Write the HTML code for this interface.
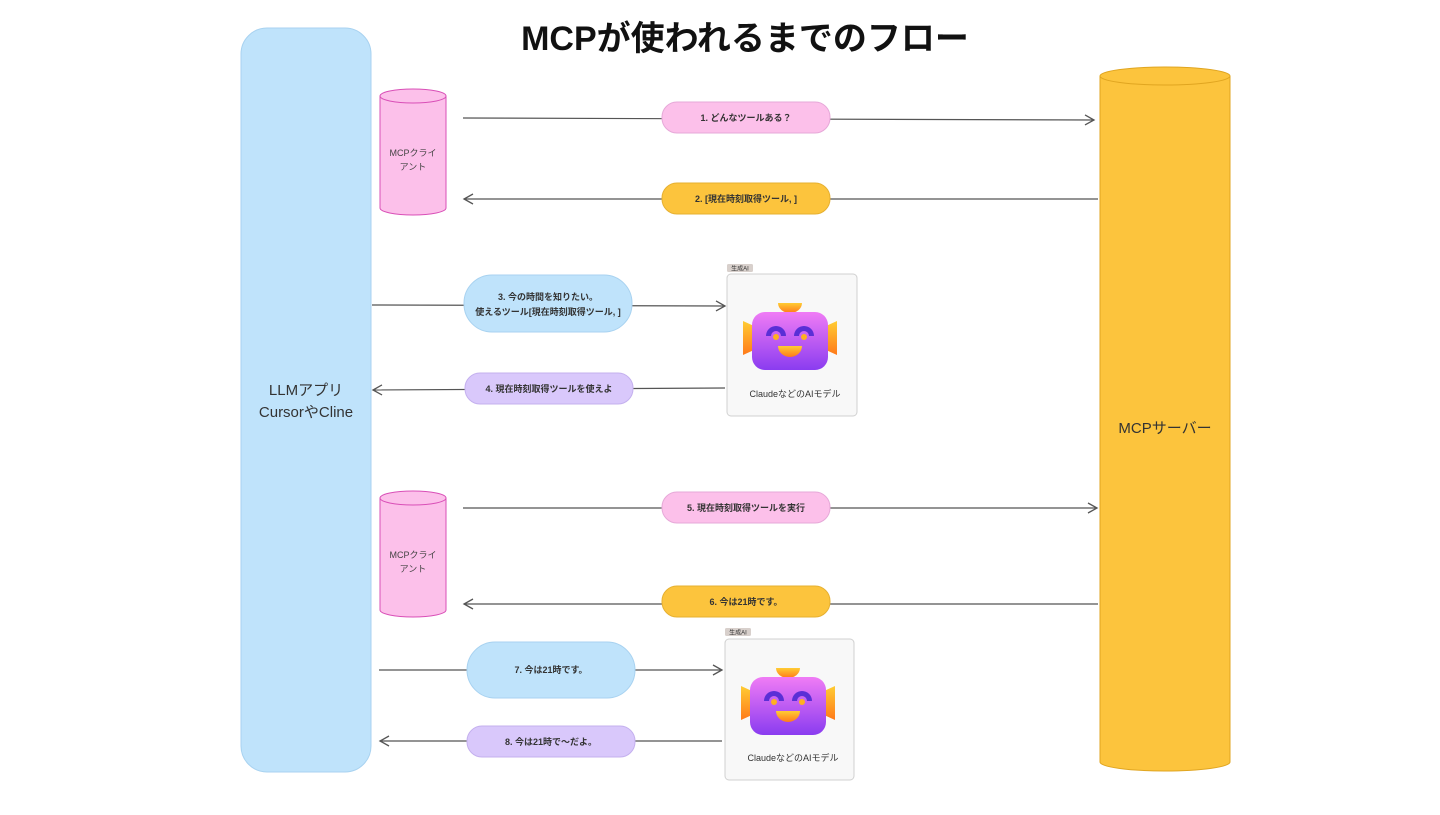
<!DOCTYPE html>
<html><head><meta charset="utf-8"><style>
body{margin:0;background:#fff;}
text{font-family:"Liberation Sans","Noto Sans CJK JP",sans-serif;}
</style></head><body>
<svg width="1440" height="810" viewBox="0 0 1440 810" xmlns="http://www.w3.org/2000/svg">
<defs>
<marker id="ar" markerWidth="12" markerHeight="12" refX="10" refY="6" orient="auto" markerUnits="userSpaceOnUse">
<path d="M1,1 L10,6 L1,11" fill="none" stroke="#555" stroke-width="1.3"/></marker>
<linearGradient id="rb" x1="0" y1="0" x2="0" y2="1"><stop offset="0" stop-color="#f07cf5"/><stop offset="1" stop-color="#8a3cf0"/></linearGradient>
<linearGradient id="og" x1="0" y1="0" x2="0" y2="1"><stop offset="0" stop-color="#ffcc33"/><stop offset="1" stop-color="#ff7a1a"/></linearGradient>
<g id="robot">
<path d="M-12,-35 L12,-35 A12,10 0 0 1 -12,-35 Z" fill="url(#og)"/>
<path d="M-36,-12 L-47,-17 L-47,17 L-36,12 Z" fill="url(#og)"/>
<path d="M36,-12 L47,-17 L47,17 L36,12 Z" fill="url(#og)"/>
<rect x="-38" y="-26" width="76" height="58" rx="13" fill="url(#rb)"/>
<path d="M-24,-2 A10,10 0 0 1 -4,-2 L-9,-2 A5,5 0 0 0 -19,-2 Z" fill="#5a2fd6"/>
<path d="M4,-2 A10,10 0 0 1 24,-2 L19,-2 A5,5 0 0 0 9,-2 Z" fill="#5a2fd6"/>
<circle cx="-14" cy="-1" r="3" fill="#ffb020"/><circle cx="14" cy="-1" r="3" fill="#ffb020"/>
<path d="M-12,8 L12,8 A12,11 0 0 1 -12,8 Z" fill="url(#og)"/>
</g>
</defs>
<text x="745" y="50" text-anchor="middle" font-size="34" font-weight="bold" fill="#111">MCPが使われるまでのフロー</text>

<rect x="241" y="28" width="130" height="744" rx="26" fill="#bfe3fb" stroke="#a8d2f0"/>
<text x="306" y="395" text-anchor="middle" font-size="15" fill="#333">LLMアプリ</text>
<text x="306" y="417" text-anchor="middle" font-size="15" fill="#333">CursorやCline</text>

<path d="M1100,76 L1100,762 A65,9 0 0 0 1230,762 L1230,76" fill="#fcc43d" stroke="#e0a520"/>
<ellipse cx="1165" cy="76" rx="65" ry="9" fill="#fcc43d" stroke="#e0a520"/>
<text x="1165" y="433" text-anchor="middle" font-size="15" fill="#333">MCPサーバー</text>

<g id="cl">
<path d="M380,96 L380,208 A33,7 0 0 0 446,208 L446,96" fill="#fcc0ea" stroke="#d94fb7"/>
<ellipse cx="413" cy="96" rx="33" ry="7" fill="#fcc0ea" stroke="#d94fb7"/>
<text x="413" y="156" text-anchor="middle" font-size="9" fill="#444">MCPクライ</text>
<text x="413" y="170" text-anchor="middle" font-size="9" fill="#444">アント</text>
</g>
<use href="#cl" y="402"/>

<g stroke="#555" stroke-width="1.2" fill="none">
<line x1="463" y1="118" x2="1094" y2="120" marker-end="url(#ar)"/>
<line x1="1098" y1="199" x2="464" y2="199" marker-end="url(#ar)"/>
<line x1="372" y1="305" x2="725" y2="306" marker-end="url(#ar)"/>
<line x1="725" y1="388" x2="373" y2="390" marker-end="url(#ar)"/>
<line x1="463" y1="508" x2="1097" y2="508" marker-end="url(#ar)"/>
<line x1="1098" y1="604" x2="464" y2="604" marker-end="url(#ar)"/>
<line x1="379" y1="670" x2="722" y2="670" marker-end="url(#ar)"/>
<line x1="722" y1="741" x2="380" y2="741" marker-end="url(#ar)"/>
</g>

<g font-size="9" font-weight="bold" fill="#333" text-anchor="middle">
<rect x="662" y="102" width="168" height="31" rx="15" fill="#fcc0ea" stroke="#e6a8d8"/>
<text x="746" y="121">1. どんなツールある？</text>
<rect x="662" y="183" width="168" height="31" rx="15" fill="#fcc43d" stroke="#e6b030"/>
<text x="746" y="202">2. [現在時刻取得ツール, ]</text>
<rect x="464" y="275" width="168" height="57" rx="28" fill="#bfe3fb" stroke="#a8d2f0"/>
<text x="548" y="300">3. 今の時間を知りたい。</text>
<text x="548" y="315">使えるツール[現在時刻取得ツール, ]</text>
<rect x="465" y="373" width="168" height="31" rx="15" fill="#d9c8fb" stroke="#c4b0ee"/>
<text x="549" y="392">4. 現在時刻取得ツールを使えよ</text>
<rect x="662" y="492" width="168" height="31" rx="15" fill="#fcc0ea" stroke="#e6a8d8"/>
<text x="746" y="511">5. 現在時刻取得ツールを実行</text>
<rect x="662" y="586" width="168" height="31" rx="15" fill="#fcc43d" stroke="#e6b030"/>
<text x="746" y="605">6. 今は21時です。</text>
<rect x="467" y="642" width="168" height="56" rx="28" fill="#bfe3fb" stroke="#a8d2f0"/>
<text x="551" y="673">7. 今は21時です。</text>
<rect x="467" y="726" width="168" height="31" rx="15" fill="#d9c8fb" stroke="#c4b0ee"/>
<text x="551" y="745">8. 今は21時で〜だよ。</text>
</g>

<g>
<rect x="727" y="264" width="26" height="8" rx="1.5" fill="#d8d0cc"/>
<text x="740" y="270.5" text-anchor="middle" font-size="6" fill="#333">生成AI</text>
<rect x="727" y="274" width="130" height="142" rx="4" fill="#f8f8f8" stroke="#d0d0d0"/>
<use href="#robot" x="790" y="338"/>
<text x="795" y="397" text-anchor="middle" font-size="9" fill="#333">ClaudeなどのAIモデル</text>
</g>
<g>
<rect x="725" y="628" width="26" height="8" rx="1.5" fill="#d8d0cc"/>
<text x="738" y="634.5" text-anchor="middle" font-size="6" fill="#333">生成AI</text>
<rect x="725" y="639" width="129" height="141" rx="4" fill="#f8f8f8" stroke="#d0d0d0"/>
<use href="#robot" x="788" y="703"/>
<text x="793" y="761" text-anchor="middle" font-size="9" fill="#333">ClaudeなどのAIモデル</text>
</g>
</svg>
</body></html>
